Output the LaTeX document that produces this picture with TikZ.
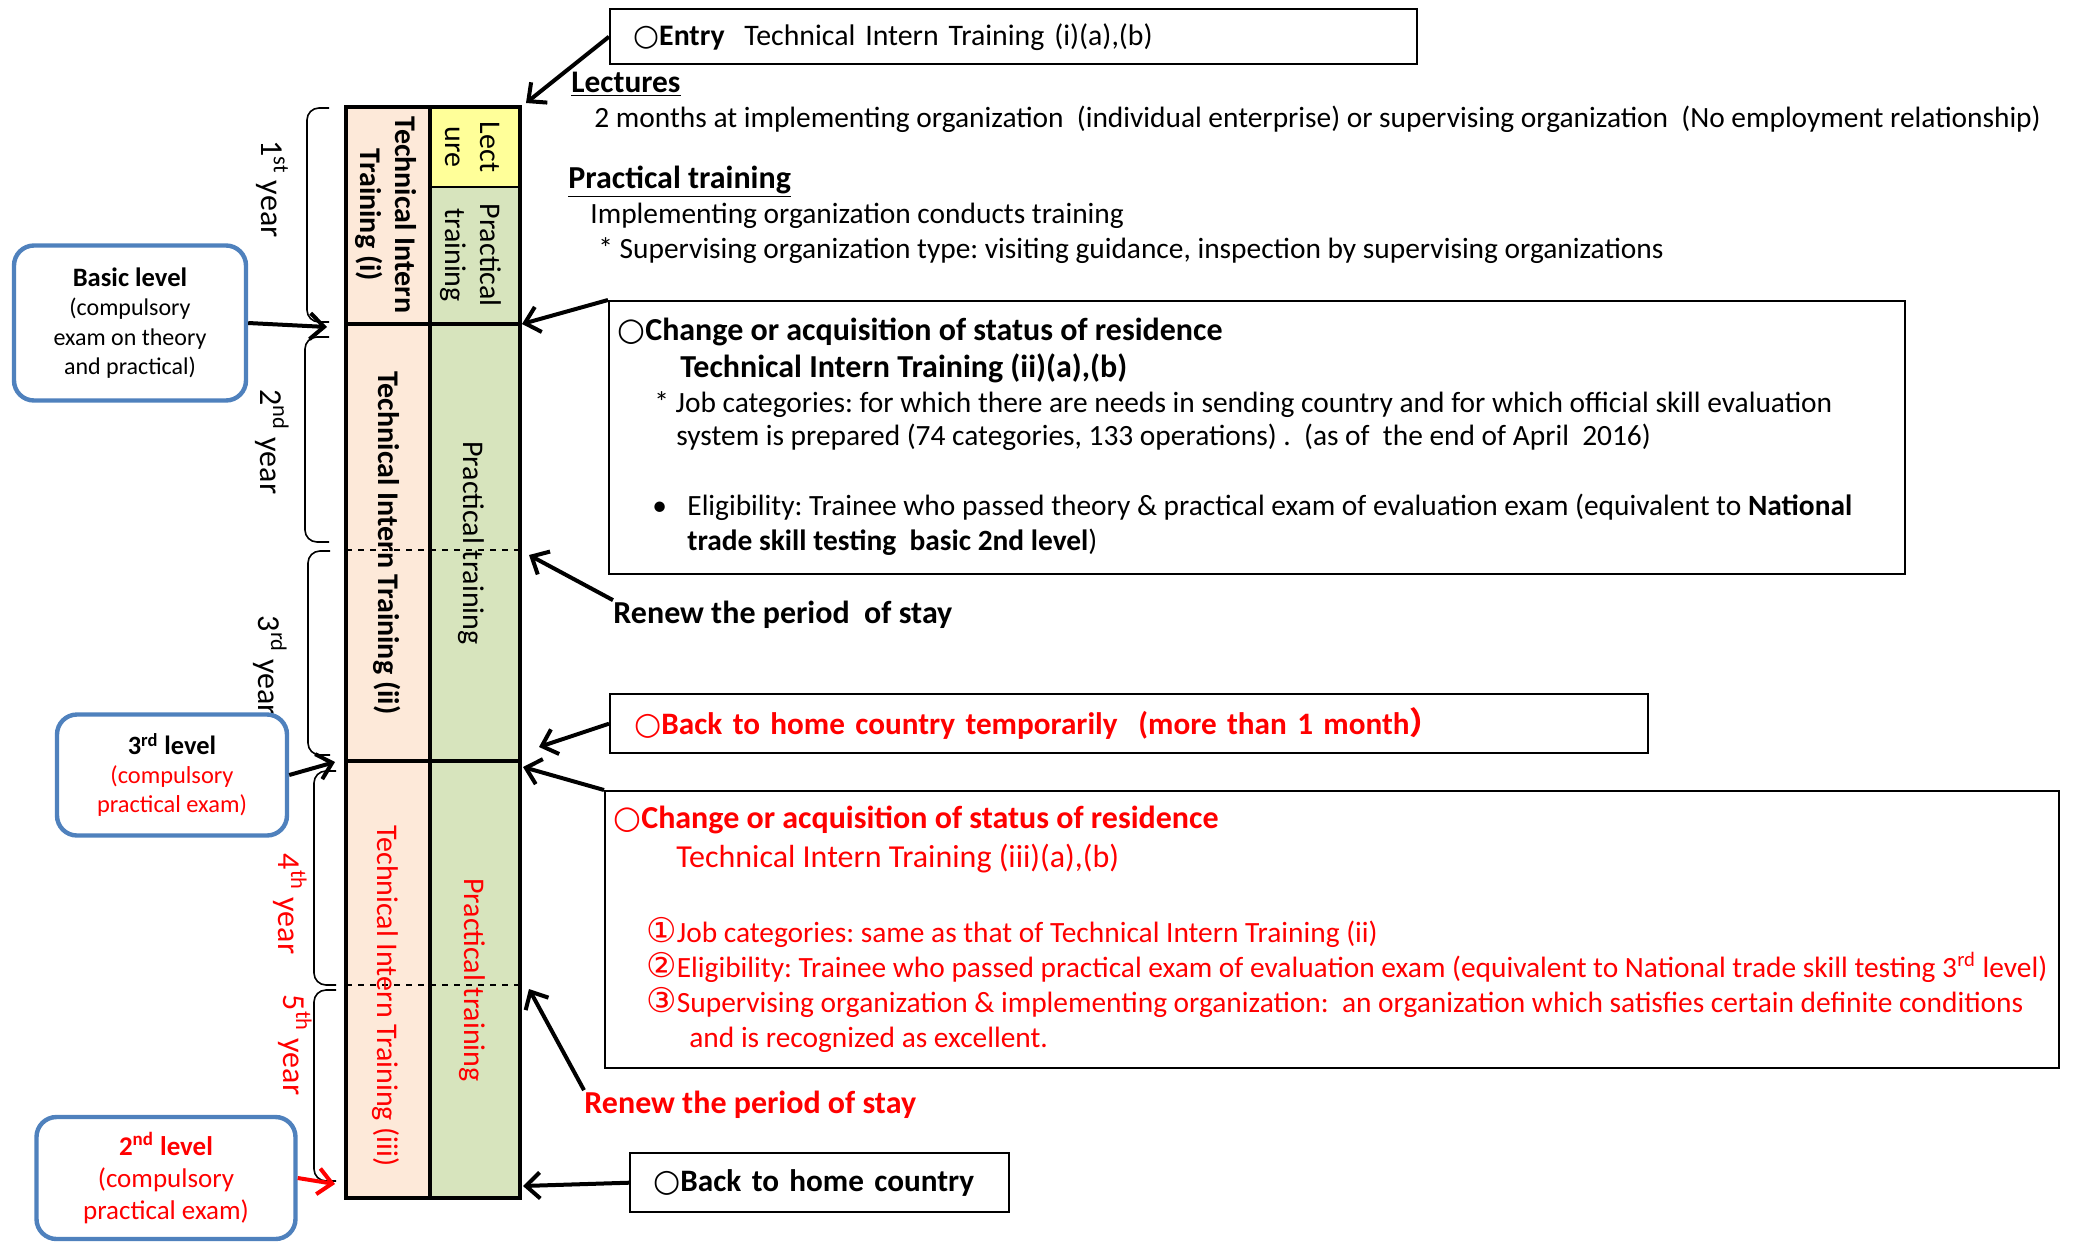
\documentclass[tikz,border=0pt]{standalone}
\usepackage{fontspec}
\setmainfont{Carlito}
\newfontfamily\symfont{DejaVu Sans}
\newfontfamily\cjk{Noto Sans CJK JP}
\usetikzlibrary{arrows.meta}
\frenchspacing
\definecolor{cellpeach}{HTML}{FDE9D9}
\definecolor{cellyellow}{HTML}{FFFF99}
\definecolor{cellgreen}{HTML}{D7E4BD}
\definecolor{lvlblue}{HTML}{4F81BD}
\definecolor{alertred}{HTML}{FF0000}
\newcommand{\circmark}{{\symfont\bfseries ○}}
\newcommand{\encl}[1]{{\symfont\fontsize{17}{17}\selectfont #1}}
\begin{document}
\begin{tikzpicture}
[x=0.5pt,y=-0.5pt,
  cellLine/.style={draw=black,line width=2pt},
  yearBrace/.style={draw,line width=0.8pt,rounded corners=6pt},
  infoBox/.style={draw,line width=1.2pt,inner ysep=0pt},
  levelBox/.style={draw=lvlblue,line width=2.2pt,rounded corners=10pt,fill=white,align=center,inner sep=0pt},
  lineText/.style={anchor=base west,inner sep=0pt,font=\fontsize{14.7}{17}\selectfont},
  headText/.style={lineText,font=\bfseries\fontsize{16}{19}\selectfont},
  colText/.style={rotate=-90,align=center,inner sep=0pt,font=\fontsize{15}{17.5}\selectfont},
  titleText/.style={colText,font=\bfseries\fontsize{15}{17.5}\selectfont},
  yearText/.style={rotate=-90,inner sep=0pt,font=\fontsize{16}{18}\selectfont},
  pointer/.style={-{Straight Barb[length=7pt,width=13pt]},line width=2pt}]
\useasboundingbox (0,0) rectangle (2073,1243);
%% column cells
\foreach \xa/\ya/\xb/\yb/\tint in {
  346/107/430/324/cellpeach, 346/324/430/761/cellpeach, 346/761/430/1198/cellpeach,
  430/107/520/187/cellyellow, 430/187/520/324/cellgreen,
  430/324/520/761/cellgreen, 430/761/520/1198/cellgreen}
{
  \filldraw[fill=\tint,draw=black,line width=0.6pt] (\xa,\ya) rectangle (\xb,\yb);
}
\draw[cellLine] (346,107) rectangle (520,1198);
\draw[cellLine] (430,107) -- (430,1198);
\draw[cellLine] (346,324) -- (520,324) (346,761) -- (520,761);
\draw[dashed,line width=1pt] (346,550) -- (520,550) (346,985) -- (520,985);
%% column texts
\node[titleText] (titI) at (386,215) {Technical Intern\\Training (i)};
\node[colText] (lect) at (473,147) {Lect\\ure};
\node[colText] (pracI) at (471,255) {Practical\\training};
\node[titleText] (titII) at (387,543) {Technical Intern Training (ii)};
\node[colText] (pracII) at (471,543) {Practical training};
\node[colText,text=alertred] (titIII) at (386,996) {Technical Intern Training (iii)};
\node[colText,text=alertred] (pracIII) at (472,980) {Practical training};
%% year braces
\foreach \ya/\yb/\xl/\xr in {108/322/307/329, 337/542/305/329, 551/755/308/330,
  771/985/314/336, 990/1181/314/336}
{
  \draw[yearBrace] (\xr,\ya) -- (\xl,\ya) -- (\xl,\yb) -- (\xr,\yb);
}
\node[yearText] (yearI) at (272,189) {1\textsuperscript{st} year};
\node[yearText] (yearII) at (272,442) {2\textsuperscript{nd} year};
\node[yearText] (yearIII) at (270,666) {3\textsuperscript{rd} year};
\node[yearText,text=alertred] (yearIV) at (290,904) {4\textsuperscript{th} year};
\node[yearText,text=alertred] (yearV) at (295,1045) {5\textsuperscript{th} year};
%% exam boxes
\node[levelBox,minimum width=116pt,minimum height=77.5pt,font=\fontsize{12}{14.75}\selectfont] (basic) at (130,323)
  {{\bfseries\fontsize{13.3}{14.75}\selectfont Basic level}\\(compulsory\\exam on theory\\and practical)};
\node[levelBox,minimum width=115pt,minimum height=60.5pt,font=\fontsize{12.2}{14.5}\selectfont] (levelIII) at (172,775)
  {{\bfseries\fontsize{13.2}{14.5}\selectfont 3\textsuperscript{rd} level}\\\textcolor{alertred}{(compulsory}\\\textcolor{alertred}{practical exam)}};
\node[levelBox,minimum width=129.5pt,minimum height=61pt,font=\fontsize{13.5}{16}\selectfont,text=alertred] (levelII) at (166,1178)
  {\textbf{2\textsuperscript{nd} level}\\(compulsory\\practical exam)};
\coordinate (jointI) at (327,327);
\coordinate (jointIII) at (335,762);
\coordinate (jointV) at (335,1184);
\draw[pointer] (basic.east) -- (jointI);
\draw[pointer] (levelIII.east) -- (jointIII);
\draw[pointer,alertred] (levelII.east) -- (jointV);
%% right side texts and boxes
\node[infoBox,anchor=north west,minimum width=403.5pt,minimum height=27.5pt,text width=380.5pt,align=left,inner xsep=11.5pt,
  font=\fontsize{14.9}{17}\selectfont] (entry) at (609,8)
  {\circmark\textbf{Entry}\ \ Technical Intern Training (i)(a),(b)};
\node[lineText,font=\bfseries\fontsize{15.7}{18}\selectfont] (lecHead) at (571,92) {\underline{Lectures}};
\node[lineText] (lecBody) at (594,127) {2 months at implementing organization\ \ (individual enterprise) or supervising organization\ \ (No employment relationship)};
\node[lineText,font=\bfseries\fontsize{16}{18}\selectfont] (pracHead) at (568,188) {\underline{Practical training}};
\node[lineText] (pracBody) at (590,223) {Implementing organization conducts training};
\node[lineText] (pracNote) at (598,258) {* Supervising organization type: visiting guidance, inspection by supervising organizations};
\node[infoBox,anchor=north west,minimum width=648pt,minimum height=136.5pt] (chgII) at (608,300) {};
\node[headText] (chgIIhead) at (617,340) {\circmark Change or acquisition of status of residence};
\node[headText] (chgIIsub) at (680,377) {Technical Intern Training (ii)(a),(b)};
\node[lineText] (chgIIjob) at (654,412) {* Job categories: for which there are needs in sending country and for which official skill evaluation};
\node[lineText] (chgIIsys) at (676,445) {system is prepared (74 categories, 133 operations) .\ \ (as of\ \ the end of April\ \ 2016)};
\node[lineText] (chgIIdot) at (652,515) {\textbullet};
\node[lineText] (chgIIelig) at (687,515) {Eligibility: Trainee who passed theory \& practical exam of evaluation exam (equivalent to \textbf{National}};
\node[lineText] (chgIItrade) at (687,550) {\textbf{trade skill testing\ \ basic 2nd level})};
\node[headText] (renewII) at (613,623) {Renew the period\ \ of stay};
\node[infoBox,anchor=north west,minimum width=519pt,minimum height=29.5pt,text width=495pt,align=left,inner xsep=12pt,
  font=\bfseries\fontsize{15.6}{18}\selectfont,text=alertred] (backTemp) at (609,693)
  {\circmark Back to home country temporarily\ \ (more than 1 month{\cjk ）}};
\node[infoBox,anchor=north west,minimum width=727pt,minimum height=138.5pt] (chgIII) at (604,790) {};
\node[headText,text=alertred] (chgIIIhead) at (613,828) {\circmark Change or acquisition of status of residence};
\node[lineText,text=alertred,font=\fontsize{16}{18}\selectfont] (chgIIIsub) at (676,867) {Technical Intern Training (iii)(a),(b)};
\node[lineText,text=alertred] (chgIIIjob) at (646,942) {\encl{①}Job categories: same as that of Technical Intern Training (ii)};
\node[lineText,text=alertred] (chgIIIelig) at (646,977) {\encl{②}Eligibility: Trainee who passed practical exam of evaluation exam (equivalent to National trade skill testing 3\textsuperscript{rd} level)};
\node[lineText,text=alertred] (chgIIIsup) at (646,1012) {\encl{③}Supervising organization \& implementing organization:\ \ an organization which satisfies certain definite conditions};
\node[lineText,text=alertred] (chgIIIexc) at (689,1047) {and is recognized as excellent.};
\node[headText,text=alertred] (renewIII) at (584,1113) {Renew the period of stay};
\node[infoBox,anchor=north west,minimum width=189.5pt,minimum height=29.5pt,text width=166.5pt,align=left,inner xsep=11.5pt,
  font=\bfseries\fontsize{15.6}{18}\selectfont] (backHome) at (629,1152)
  {\circmark Back to home country};
%% pointers into the column
\coordinate (hitEntry) at (526,103);
\coordinate (hitII) at (522,324);
\coordinate (hitRenewII) at (529,555);
\coordinate (hitBack) at (539,747);
\coordinate (hitIII) at (523,767);
\coordinate (hitRenewIII) at (529,989);
\coordinate (hitHome) at (523,1186);
\draw[pointer] (entry.west) -- (hitEntry);
\draw[pointer] (chgII.north west) -- (hitII);
\draw[pointer] (renewII.north west) -- (hitRenewII);
\draw[pointer] (backTemp.west) -- (hitBack);
\draw[pointer] (chgIII.north west) -- (hitIII);
\draw[pointer] (renewIII.north west) -- (hitRenewIII);
\draw[pointer] (backHome.west) -- (hitHome);
\end{tikzpicture}
\end{document}
